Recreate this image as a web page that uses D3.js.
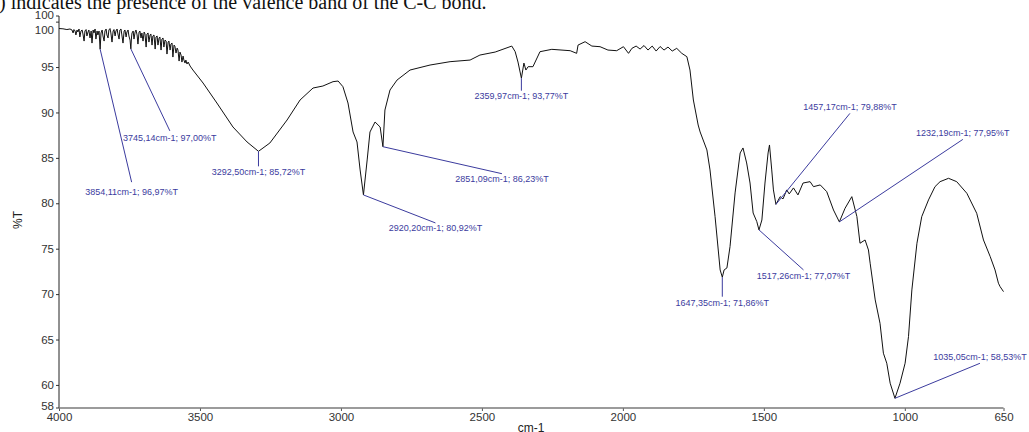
<!DOCTYPE html>
<html>
<head>
<meta charset="utf-8">
<script src="https://cdn.jsdelivr.net/npm/d3@7"></script>
<style>
  body { margin: 0; background: #fff; }
  svg { display: block; }
</style>
</head>
<body>
<svg id="chart" width="1029" height="432"></svg>
<script>
// FTIR spectrum: wavenumber (cm-1) and transmittance (%T)
const wavenumber = [
  4000, 3986, 3972, 3961,
  3954, 3950, 3947, 3943, 3940, 3936, 3933, 3929, 3926, 3922, 3918, 3915, 3911, 3908, 3904, 3901, 3897, 3894, 3890,
  3886, 3883, 3879, 3876, 3872, 3869, 3865, 3862, 3858, 3854.11, 3851, 3847, 3844, 3840, 3837, 3833, 3830, 3826,
  3823, 3819, 3816, 3812, 3808, 3805, 3801, 3798, 3794, 3791, 3787, 3784, 3780, 3777, 3773, 3769, 3766, 3762,
  3759, 3755, 3752, 3748, 3745.14, 3743, 3741, 3737, 3734, 3730, 3727, 3723, 3720, 3716, 3713, 3709, 3706, 3702,
  3698, 3695, 3691, 3688, 3684, 3681, 3677, 3674, 3670, 3667, 3663, 3659, 3656, 3652, 3649, 3645, 3642, 3638,
  3635, 3631, 3628, 3624, 3620, 3617, 3613, 3610, 3606, 3603, 3599, 3596, 3592, 3589, 3585, 3581, 3578, 3574,
  3571, 3567, 3564, 3560, 3557, 3553, 3550, 3546, 3542, 3535, 3525,
  3489, 3440, 3383, 3333, 3292.50, 3252, 3191, 3145, 3099, 3064, 3028, 3010, 2993, 2975, 2957, 2943, 2932,
  2920.20, 2907, 2897, 2879, 2861, 2851.09, 2844, 2826, 2801, 2755, 2684, 2613, 2542, 2507, 2453, 2394, 2382, 2372,
  2359.97, 2351, 2344, 2336, 2319, 2294, 2252, 2187, 2164, 2159, 2134, 2110, 2081, 2053, 2022, 1998, 1980, 1968,
  1953, 1939, 1925, 1911, 1896, 1882, 1868, 1854, 1840, 1825, 1809, 1791, 1773, 1762, 1750, 1733, 1726, 1702, 1691, 1673, 1655,
  1647.35, 1641, 1631, 1620, 1602, 1584, 1574, 1561, 1549, 1538, 1525,
  1517.26, 1507, 1496, 1485, 1480, 1472, 1466,
  1457.17, 1442, 1432, 1419, 1410, 1395, 1379, 1361, 1336, 1324, 1300, 1277, 1253,
  1232.19, 1212, 1188, 1170, 1159, 1141, 1129, 1123, 1105, 1088, 1076, 1064, 1052,
  1035.05, 1017, 999, 987, 975, 957, 940, 916, 893, 875, 845, 816, 780, 745, 721, 697, 680, 668, 662, 650
];
const transmittance = [
  99.24, 99.21, 99.13, 99.19,
  99.08, 98.75, 99.13, 98.97, 98.53, 99.08, 98.86, 99.19, 98.31, 98.97, 99.08, 98.64, 97.86, 98.97, 99.13, 98.42, 98.86, 99.08, 98.20,
  98.97, 97.64, 99.08, 98.75, 99.19, 98.08, 98.97, 98.53, 98.97, 96.97, 98.75, 99.08, 98.42, 97.86, 98.97, 99.19, 98.53, 98.20,
  99.08, 99.24, 98.75, 97.75, 98.97, 99.13, 98.42, 98.97, 99.19, 98.64, 98.08, 99.08, 99.19, 98.53, 97.64, 98.97, 99.08, 98.31,
  98.86, 99.08, 98.42, 97.97, 97.00, 98.20, 98.75, 98.97, 98.08, 98.86, 99.08, 98.53, 97.53, 98.86, 98.97, 98.20, 98.75, 97.86,
  98.86, 98.64, 97.20, 98.64, 98.75, 97.75, 98.53, 98.64, 97.42, 98.42, 98.53, 96.98, 98.31, 98.42, 97.42, 98.20, 98.31, 96.87,
  98.08, 98.20, 97.20, 97.97, 97.86, 96.43, 97.75, 97.86, 96.87, 97.53, 97.64, 96.10, 97.42, 97.31, 96.54, 97.09, 96.87, 95.66,
  96.65, 96.32, 95.55, 96.21, 95.77, 95.44, 95.77, 95.33, 95.55, 95.11, 94.67,
  93.24, 91.04, 88.40, 86.75, 85.72, 86.64, 89.17, 91.37, 92.69, 92.91, 93.39, 93.46, 92.84, 91.04, 87.85, 86.75, 83.67,
  80.92, 84.77, 87.85, 88.95, 88.40, 86.23, 90.27, 92.47, 93.57, 94.67, 95.22, 95.59, 95.77, 96.32, 96.65, 97.31, 96.69, 95.55,
  93.77, 95.44, 94.67, 95.04, 95.04, 96.69, 96.95, 96.80, 96.51, 97.42, 97.79, 97.31, 97.24, 96.87, 96.80, 97.24, 96.51, 97.06,
  97.31, 96.98, 97.37, 96.87, 97.31, 96.76, 97.26, 96.87, 97.20, 96.76, 97.06, 96.51, 96.14, 94.67, 91.37, 88.62, 87.85, 85.87, 83.67, 78.53, 72.66,
  71.86, 72.66, 72.88, 75.23, 81.14, 85.54, 86.09, 84.44, 82.23, 78.93, 77.98,
  77.07, 78.16, 82.23, 85.54, 86.42, 83.67, 81.47,
  79.88, 80.73, 80.48, 81.47, 81.03, 81.69, 80.92, 82.23, 82.38, 81.83, 82.02, 81.28, 79.26,
  77.95, 79.45, 80.73, 78.53, 75.60, 75.96, 74.86, 73.40, 69.36, 66.79, 63.49, 62.39, 60.19,
  58.53, 60.19, 62.39, 65.32, 70.46, 75.60, 78.53, 80.37, 81.83, 82.38, 82.75, 82.38, 81.10, 78.90, 75.96, 74.12, 72.66, 71.20, 70.82, 70.27
];

// Labelled peaks
const peakWavenumber = [3854.11, 3745.14, 3292.50, 2920.20, 2851.09, 2359.97, 1647.35, 1517.26, 1457.17, 1232.19, 1035.05];
const peakTransmittance = [96.97, 97.00, 85.72, 80.92, 86.23, 93.77, 71.86, 77.07, 79.88, 77.95, 58.53];
const peakLabels = [
  "3854,11cm-1; 96,97%T", "3745,14cm-1; 97,00%T", "3292,50cm-1; 85,72%T", "2920,20cm-1; 80,92%T",
  "2851,09cm-1; 86,23%T", "2359,97cm-1; 93,77%T", "1647,35cm-1; 71,86%T", "1517,26cm-1; 77,07%T",
  "1457,17cm-1; 79,88%T", "1232,19cm-1; 77,95%T", "1035,05cm-1; 58,53%T"
];

// Axis ticks
const xTicks = [4000, 3500, 3000, 2500, 2000, 1500, 1000, 650];
const yTicks = [60, 65, 70, 75, 80, 85, 90, 95, 100];
const yEndLabels = ["58", "100"];
const headerText = ") indicates the presence of the valence band of the C-C bond.";

// Leader line offsets (px) from each peak, and label offset from the leader end
const leaderLayout = [
  { dx: 31.5, dy: 133, ty: 10 }, { dx: 39, dy: 82, ty: 6.5 }, { dx: 0, dy: 15, ty: 6 },
  { dx: 72, dy: 28, ty: 5 }, { dx: 119, dy: 27, ty: 5.5 }, { dx: 0, dy: 12.5, ty: 5 },
  { dx: 0, dy: 19.5, ty: 6 }, { dx: 44.5, dy: 40, ty: 5.5 }, { dx: 74, dy: -91, ty: -6.5 },
  { dx: 123.5, dy: -82.5, ty: -6.5 }, { dx: 85, dy: -35, ty: -6 }
];

const svg = d3.select("#chart");
const plotLeft = 59, plotRight = 1003.5, plotTop = 16, plotBottom = 408;

const x = d3.scaleLinear().domain([4000, 650]).range([plotLeft, plotRight]);
const y = d3.scaleLinear().domain([57.46, 100.62]).range([plotBottom, plotTop]);

const sans = "'Liberation Sans', Arial, sans-serif";
const annColor = "#3b3b9e";

// Header line of surrounding text
svg.append("text")
  .attr("x", -1).attr("y", 9)
  .attr("font-family", "'Liberation Serif', 'Times New Roman', serif")
  .attr("font-size", 20)
  .attr("fill", "#111")
  .text(headerText);

// Y axis
const yAxis = svg.append("g")
  .attr("transform", `translate(${plotLeft},0)`)
  .call(d3.axisLeft(y).tickValues(yTicks).tickSize(3).tickPadding(2).tickFormat(d3.format("d")));
yAxis.select(".domain").remove();
yAxis.selectAll(".tick line").attr("stroke", "#333");
yAxis.selectAll(".tick text")
  .attr("font-family", sans).attr("font-size", 11.5).attr("fill", "#333")
  .attr("dy", d => d === 100 ? "1.05em" : "0.32em");

// Axis end labels (rounded domain limits)
const yEnds = svg.append("g").attr("transform", `translate(${plotLeft},0)`);
yEnds.selectAll("g").data(y.domain()).join("g")
  .attr("transform", d => `translate(0,${y(d)})`)
  .call(g => g.append("line").attr("x1", -3).attr("x2", 0).attr("stroke", "#333"))
  .call(g => g.append("text").attr("x", -5)
    .attr("dy", (d, i) => i === 0 ? "0.15em" : "0.3em")
    .attr("text-anchor", "end").attr("font-family", sans).attr("font-size", 11.5).attr("fill", "#333")
    .text((d, i) => yEndLabels[i]));

svg.append("line")
  .attr("x1", plotLeft).attr("x2", plotLeft)
  .attr("y1", plotTop).attr("y2", plotBottom)
  .attr("stroke", "#222").attr("stroke-width", 1);

// X axis
const xAxis = svg.append("g")
  .attr("transform", `translate(0,${plotBottom})`)
  .call(d3.axisBottom(x).tickValues(xTicks).tickSize(3).tickPadding(2).tickFormat(d3.format("d")));
xAxis.select(".domain").remove();
xAxis.selectAll(".tick line").attr("stroke", "#555");
xAxis.selectAll(".tick text")
  .attr("font-family", sans).attr("font-size", 11.5).attr("fill", "#333");

svg.append("line")
  .attr("x1", plotLeft).attr("x2", plotRight)
  .attr("y1", plotBottom).attr("y2", plotBottom)
  .attr("stroke", "#7a7a7a").attr("stroke-width", 1.4);

// Axis titles
svg.append("text")
  .attr("x", 531).attr("y", 432)
  .attr("text-anchor", "middle")
  .attr("font-family", sans).attr("font-size", 12).attr("fill", "#222")
  .text("cm-1");

svg.append("text")
  .attr("transform", "translate(22,220) rotate(-90)")
  .attr("text-anchor", "middle")
  .attr("font-family", sans).attr("font-size", 12).attr("fill", "#222")
  .text("%T");

// Spectrum trace
const points = wavenumber.map((w, i) => [w, transmittance[i]]);
svg.append("path")
  .datum(points)
  .attr("fill", "none")
  .attr("stroke", "#111")
  .attr("stroke-width", 1)
  .attr("stroke-linejoin", "round")
  .attr("d", d3.line().x(d => x(d[0])).y(d => y(d[1])));

// Peak annotations
const ann = svg.append("g");
peakWavenumber.forEach((w, i) => {
  const px = x(w), py = y(peakTransmittance[i]);
  const L = leaderLayout[i];
  const ex = px + L.dx, ey = py + L.dy;
  ann.append("line")
    .attr("x1", px).attr("y1", py).attr("x2", ex).attr("y2", ey)
    .attr("stroke", annColor).attr("stroke-width", 1);
  ann.append("text")
    .attr("x", ex).attr("y", ey + L.ty)
    .attr("dy", "0.35em")
    .attr("text-anchor", "middle")
    .attr("font-family", sans).attr("font-size", 9)
    .attr("fill", annColor)
    .text(peakLabels[i]);
});
</script>
</body>
</html>
